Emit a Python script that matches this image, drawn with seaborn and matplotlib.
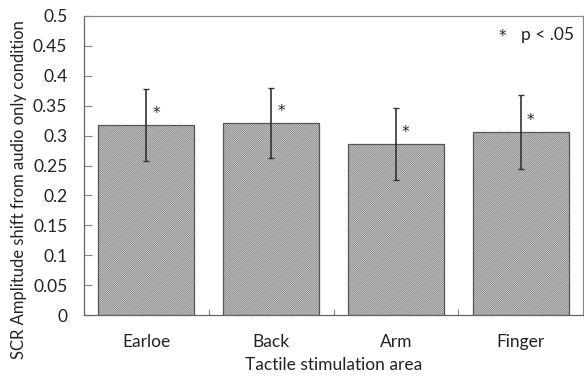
import matplotlib
matplotlib.use("Agg")
import matplotlib.pyplot as plt
import seaborn as sns
import pandas as pd
import numpy as np

categories = ["Earloe", "Back", "Arm", "Finger"]
means = [0.318, 0.321, 0.286, 0.306]
errors = [0.060, 0.058, 0.060, 0.062]
significant = [True, True, True, True]
y_ticks = [0, 0.05, 0.1, 0.15, 0.2, 0.25, 0.3, 0.35, 0.4, 0.45, 0.5]
y_tick_labels = ["0", "0.05", "0.1", "0.15", "0.2", "0.25", "0.3", "0.35", "0.4", "0.45", "0.5"]

sns.set_style("white")
plt.rcParams["font.family"] = ["Lato", "DejaVu Sans"]
plt.rcParams["hatch.color"] = "#b2b2b2"
plt.rcParams["hatch.linewidth"] = 0.3

df = pd.DataFrame({"area": categories, "shift": means})

fig = plt.figure(figsize=(5.84, 3.76), dpi=100)
ax = fig.add_axes([84/584, 61/376, 499/584, 299/376])

sns.barplot(data=df, x="area", y="shift", order=categories, color="#cbcbcb",
            saturation=1, width=0.77, errorbar=None, ax=ax,
            edgecolor="#555555", linewidth=0.9)
for p in ax.patches:
    p.set_hatch("/" * 16)

xs = np.arange(len(categories))
ax.errorbar(xs, means, yerr=errors, fmt="none", ecolor="#333333",
            elinewidth=1.2, capsize=2, capthick=1.0, zorder=5)

for x, m, s in zip(xs, means, significant):
    if s:
        ax.text(x + 0.08, m + 0.012, "*", ha="center", va="baseline",
                fontsize=11, color="#222222", family=["DejaVu Sans"])

ax.text(2.85, 0.458, "*", ha="center", va="baseline", fontsize=11,
        color="#222222", family=["DejaVu Sans"])
ax.text(3.0, 0.460, "p < .05", ha="left", va="baseline", fontsize=12.5,
        color="#222222")

ax.set_xlim(-0.5, 3.5)
ax.set_ylim(0, 0.5)
ax.set_yticks(y_ticks)
ax.set_yticklabels(y_tick_labels)
ax.set_xticks(xs)
ax.set_xticks([0.5, 1.5, 2.5], minor=True)
ax.tick_params(axis="y", which="major", direction="in", length=6, width=0.8,
               color="#888888", labelsize=12.5, labelcolor="#222222", pad=12, left=True)
ax.tick_params(axis="x", which="major", length=0, labelsize=12.5,
               labelcolor="#222222", pad=14)
ax.tick_params(axis="x", which="minor", direction="in", length=4, width=0.8,
               color="#888888", bottom=True)

for side in ["left", "bottom", "top", "right"]:
    ax.spines[side].set_visible(True)
    ax.spines[side].set_color("#888888")
    ax.spines[side].set_linewidth(0.9)
ax.spines["left"].set_color("#666666")
ax.spines["bottom"].set_color("#666666")

ax.set_xlabel("Tactile stimulation area", fontsize=12.5, color="#222222", labelpad=5)
ax.set_ylabel("")
fig.text(19/584, 1 - 190/376, "SCR Amplitude shift from audio only condition",
         rotation=90, ha="center", va="center", fontsize=12, color="#222222")

fig.savefig("out.png", dpi=100)
